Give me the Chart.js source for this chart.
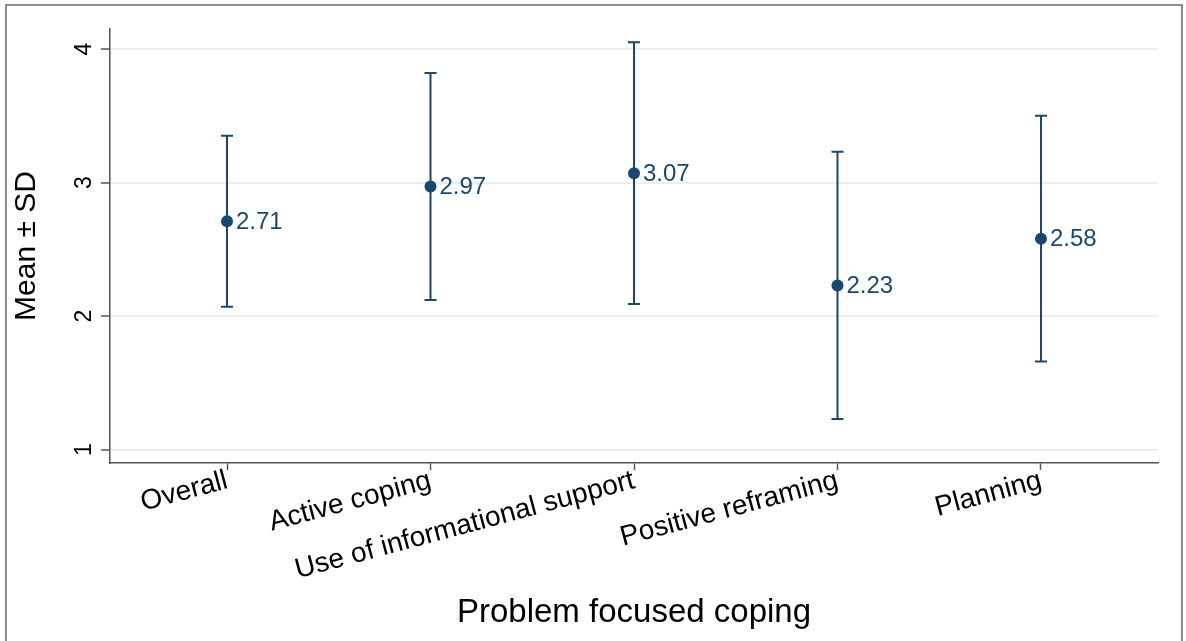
<!DOCTYPE html>
<html>
<head>
<meta charset="utf-8">
<title>Problem focused coping</title>
<script src="https://cdn.jsdelivr.net/npm/chart.js@4.4.1/dist/chart.umd.min.js"></script>
<style>
  html, body { margin: 0; padding: 0; background: #fff; }
  #wrap  { position: relative; width: 1186px; height: 641px; overflow: hidden; }
  #frame { position: absolute; left: 5px; top: 4px; width: 1178px; height: 640px;
           border: 2px solid #8e8e8e; box-sizing: border-box; pointer-events: none; }
  canvas { position: absolute; left: 0; top: 0; }
</style>
</head>
<body>
<div id="wrap">
  <canvas id="copingChart" width="1186" height="641"></canvas>
  <div id="frame"></div>
</div>
<script>
'use strict';

// ── DATA ─────────────────────────────────────────────────────────
var categories = ['Overall', 'Active coping', 'Use of informational support', 'Positive reframing', 'Planning'];
var means      = [2.71, 2.97, 3.07, 2.23, 2.58];
var sds        = [0.64, 0.85, 0.98, 1.00, 0.92];
var yTicks     = [1, 2, 3, 4];

var NAVY = '#1a476f';
var AXIS = '#555';
var GRID = '#e9eff1';
var FONT = "'Liberation Sans', Arial, Helvetica, sans-serif";

// ── ERROR BARS (mean ± SD) ───────────────────────────────────────
var errorBars = {
  id: 'errorBars',
  beforeDatasetsDraw: function (chart) {
    var ctx = chart.ctx;
    var xs  = chart.scales.x;
    var ys  = chart.scales.y;
    var cap = 6;

    ctx.save();
    ctx.strokeStyle = NAVY;
    ctx.lineWidth   = 2;
    means.forEach(function (m, i) {
      var x   = xs.getPixelForValue(i);
      var top = ys.getPixelForValue(m + sds[i]);
      var bot = ys.getPixelForValue(m - sds[i]);
      ctx.beginPath();
      ctx.moveTo(x, top);       ctx.lineTo(x, bot);
      ctx.moveTo(x - cap, top); ctx.lineTo(x + cap, top);
      ctx.moveTo(x - cap, bot); ctx.lineTo(x + cap, bot);
      ctx.stroke();
    });
    ctx.restore();
  }
};

// ── VALUE LABELS ─────────────────────────────────────────────────
var valueLabels = {
  id: 'valueLabels',
  afterDatasetsDraw: function (chart) {
    var ctx  = chart.ctx;
    var meta = chart.getDatasetMeta(0);

    ctx.save();
    ctx.fillStyle    = NAVY;
    ctx.font         = '24px ' + FONT;
    ctx.textAlign    = 'left';
    ctx.textBaseline = 'middle';
    meta.data.forEach(function (pt, i) {
      ctx.fillText(means[i].toFixed(2), pt.x + 9, pt.y + 1);
    });
    ctx.restore();
  }
};

// ── CHART ────────────────────────────────────────────────────────
var ctx = document.getElementById('copingChart').getContext('2d');

new Chart(ctx, {
  type: 'scatter',
  data: {
    datasets: [{
      data: means.map(function (m, i) { return { x: i, y: m }; }),
      backgroundColor: NAVY,
      borderColor    : NAVY,
      borderWidth    : 0,
      pointRadius    : 6,
      pointHoverRadius: 6
    }]
  },
  options: {
    responsive: false,
    animation : false,
    events    : [],
    layout: { padding: { top: 29, right: 28, left: 0, bottom: 0 } },
    plugins: {
      legend : { display: false },
      tooltip: { enabled: false }
    },
    scales: {
      x: {
        type: 'linear',
        min : -0.575,
        max : 4.575,
        afterBuildTicks: function (scale) {
          scale.ticks = categories.map(function (c, i) { return { value: i }; });
        },
        afterFit: function (scale) { scale.height = 178; },
        grid: {
          drawOnChartArea: false,
          drawTicks : true,
          tickLength: 7,
          tickColor : AXIS,
          tickWidth : 1.5
        },
        border: { display: true, color: AXIS, width: 1.5 },
        ticks: {
          autoSkip   : false,
          minRotation: 15,
          maxRotation: 15,
          padding    : -6,
          color      : '#000',
          font       : { family: FONT, size: 28 },
          callback   : function (value) { return categories[value]; }
        },
        title: {
          display: true,
          text   : 'Problem focused coping',
          color  : '#000',
          font   : { family: FONT, size: 33 },
          padding: { top: 0, bottom: 8 }
        }
      },
      y: {
        min: 0.9,
        max: 4.15,
        afterBuildTicks: function (scale) {
          scale.ticks = yTicks.map(function (v) { return { value: v }; });
        },
        afterFit: function (scale) { scale.width = 110; },
        grid: {
          color     : GRID,
          lineWidth : 2,
          drawTicks : true,
          tickLength: 9,
          tickColor : AXIS,
          tickWidth : 1.5
        },
        border: { display: true, color: AXIS, width: 1.5 },
        ticks: {
          minRotation: 90,
          maxRotation: 90,
          crossAlign : 'center',
          padding    : 10,
          color      : '#000',
          font       : { family: FONT, size: 23 }
        },
        title: {
          display: true,
          text   : 'Mean ± SD',
          color  : '#000',
          font   : { family: FONT, size: 30 },
          padding: { top: 9, bottom: 0 }
        }
      }
    }
  },
  plugins: [errorBars, valueLabels]
});
</script>
</body>
</html>
